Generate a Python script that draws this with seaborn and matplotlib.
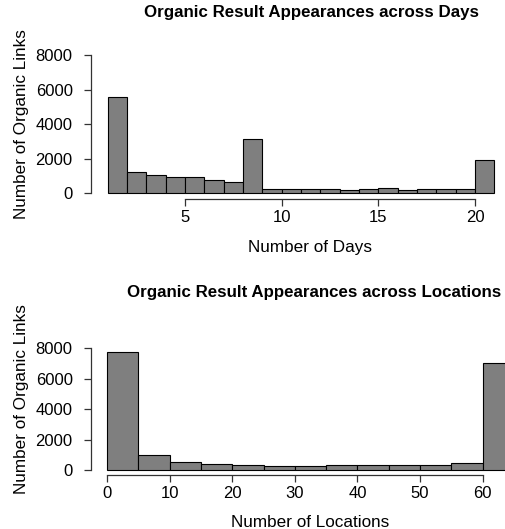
import numpy as np
import matplotlib
matplotlib.use("Agg")
import matplotlib.pyplot as plt
import seaborn as sns

# histogram counts
day_edges = list(range(1, 22))
day_counts = [5570, 1260, 1080, 970, 980, 790, 660, 3170, 250, 230,
              230, 270, 210, 270, 310, 210, 270, 250, 250, 1950]
day_ticks = [5, 10, 15, 20]

loc_edges = list(range(0, 70, 5))
loc_counts = [7720, 960, 520, 370, 330, 275, 260, 330, 310, 310, 330, 460, 7000]
loc_ticks = [0, 10, 20, 30, 40, 50, 60]

y_ticks = [0, 2000, 4000, 6000, 8000]

sns.set_style("ticks")
plt.rcParams["font.family"] = ["Liberation Sans", "DejaVu Sans"]
plt.rcParams["text.color"] = "black"
plt.rcParams["axes.labelcolor"] = "black"

W, H = 505, 529
fig = plt.figure(figsize=(W / 100, H / 100), dpi=100)


def add_axes_px(left, top, right, bottom):
    return fig.add_axes([left / W, 1 - bottom / H, (right - left) / W, (bottom - top) / H])


def draw_hist(ax, edges, counts, ticks, xlim, ylim, title, xlabel,
              title_y, xlabel_y, title_x, ylabel_y):
    sns.histplot(x=edges[:-1], weights=counts, bins=edges, ax=ax,
                 color="#7F7F7F", edgecolor="black", linewidth=0.8, alpha=1)
    ax.set_xlim(*xlim)
    ax.set_ylim(*ylim)
    ax.set_xticks(ticks)
    ax.set_yticks(y_ticks)
    ax.spines["top"].set_visible(False)
    ax.spines["right"].set_visible(False)
    ax.spines["bottom"].set_bounds(ticks[0], ticks[-1])
    ax.spines["left"].set_bounds(0, 8000)
    for s in ["bottom", "left"]:
        ax.spines[s].set_color("#333333")
        ax.spines[s].set_linewidth(0.9)
    ax.tick_params(axis="both", direction="out", length=5, width=0.9,
                   color="#333333", labelsize=12, labelcolor="black")
    ax.tick_params(axis="x", pad=3)
    ax.tick_params(axis="y", pad=8)
    ax.set_title(title, fontsize=12.2, fontweight="bold", x=title_x, y=title_y,
                 va="baseline", color="black")
    ax.set_xlabel(xlabel, fontsize=12.3, va="baseline")
    ax.xaxis.set_label_coords(0.529, xlabel_y)
    ax.set_ylabel("Number of Organic Links", fontsize=12.3, va="center")
    ax.yaxis.set_label_coords(-0.168, ylabel_y)


# top panel: days
ax1 = add_axes_px(90.7, 49.5, 505, 199)
draw_hist(ax1, day_edges, day_counts, day_ticks,
          xlim=(0.1205, 21.553), ylim=(-320, 8320),
          title="Organic Result Appearances across Days", xlabel="Number of Days",
          title_y=1.164, xlabel_y=-0.3545, title_x=0.532, ylabel_y=0.5)

# bottom panel: locations
ax2 = add_axes_px(90.7, 342, 505, 475)
draw_hist(ax2, loc_edges, loc_counts, loc_ticks,
          xlim=(-2.603, 63.56), ylim=(-320, 8400),
          title="Organic Result Appearances across Locations", xlabel="Number of Locations",
          title_y=1.278, xlabel_y=-0.39, title_x=0.539, ylabel_y=0.57)

fig.savefig("out.png", dpi=100)
